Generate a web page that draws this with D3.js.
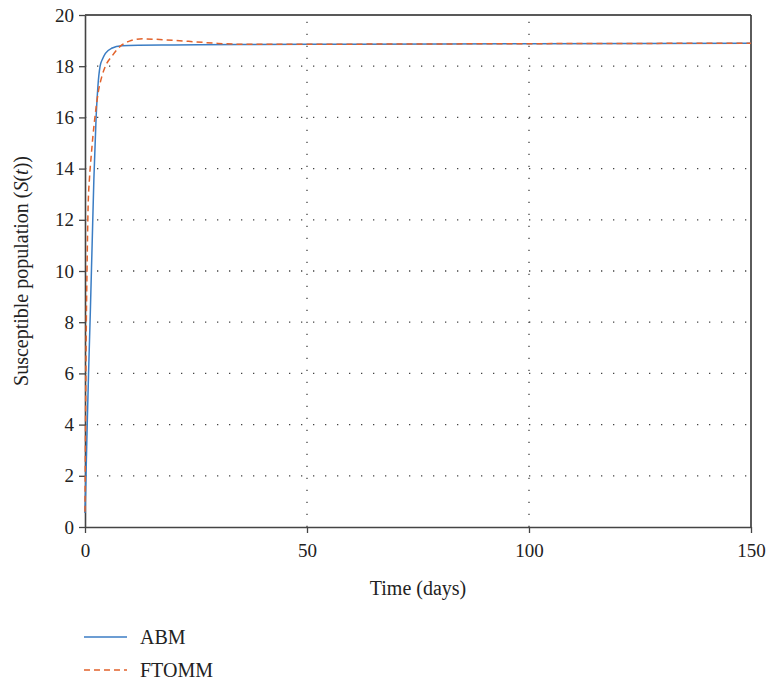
<!DOCTYPE html>
<html>
<head>
<meta charset="utf-8">
<script src="https://cdn.jsdelivr.net/npm/d3@7"></script>
<style>
  body { margin: 0; background: #fff; }
  svg { display: block; }
  text { font-family: "Liberation Serif", "DejaVu Serif", serif; fill: #222; }
</style>
</head>
<body>
<svg id="chart" width="768" height="684"></svg>
<script>
const xTicks = [0, 50, 100, 150];
const yTicks = [0, 2, 4, 6, 8, 10, 12, 14, 16, 18, 20];
const seriesNames = ["ABM", "FTOMM"];

const abmTime  = [0, 0.25, 0.5, 0.8, 1.2, 1.6, 2.0, 2.5, 2.9, 3.4, 4.0, 4.6, 6.0, 8.3, 12, 20, 35, 60, 100, 150];
const abmValue = [0.55, 2.2, 4.0, 6.0, 8.4, 11.0, 13.6, 16.0, 17.2, 18.0, 18.3, 18.5, 18.7, 18.8, 18.82, 18.83, 18.85, 18.86, 18.88, 18.9];

const ftommTime  = [0, 0.05, 0.12, 0.2, 0.3, 0.45, 0.7, 1.0, 1.4, 1.8, 2.3, 3.0, 3.8, 4.6, 6.1, 8.3, 10, 13, 16, 20, 25, 30, 35, 50, 100, 150];
const ftommValue = [0.6, 2.0, 4.0, 6.0, 8.0, 10.0, 12.5, 13.6, 14.5, 15.3, 16.1, 17.0, 17.6, 18.0, 18.4, 18.83, 18.98, 19.07, 19.05, 19.01, 18.95, 18.89, 18.86, 18.86, 18.88, 18.9];

const svg = d3.select("#chart");
const m = { left: 85, right: 751, top: 15, bottom: 527 };
const x = d3.scaleLinear().domain([0, 150]).range([m.left, m.right]);
const y = d3.scaleLinear().domain([0, 20]).range([m.bottom, m.top]);

// grid
const grid = svg.append("g");
grid.selectAll("line.h").data(yTicks.filter(v => v > 0 && v < 20)).join("line")
  .attr("x1", m.left).attr("x2", m.right)
  .attr("y1", d => y(d)).attr("y2", d => y(d))
  .attr("stroke", "#444").attr("stroke-width", 1.3)
  .attr("stroke-dasharray", "1.3,10.7");
grid.selectAll("line.v").data(xTicks.filter(v => v > 0 && v < 150)).join("line")
  .attr("x1", d => x(d)).attr("x2", d => x(d))
  .attr("y1", m.bottom).attr("y2", m.top)
  .attr("stroke", "#444").attr("stroke-width", 1.3)
  .attr("stroke-dasharray", "1.3,10.7");

// frame top & right
svg.append("line").attr("x1", m.left).attr("x2", m.right).attr("y1", m.top).attr("y2", m.top)
  .attr("stroke", "#222").attr("stroke-width", 1.3);
svg.append("line").attr("x1", m.right).attr("x2", m.right).attr("y1", m.top).attr("y2", m.bottom)
  .attr("stroke", "#333").attr("stroke-width", 1.6);

// axes
const xAxis = svg.append("g").attr("transform", `translate(0,${m.bottom})`)
  .call(d3.axisBottom(x).tickValues(xTicks).tickSize(6).tickPadding(11).tickSizeOuter(0));
const yAxis = svg.append("g").attr("transform", `translate(${m.left},0)`)
  .call(d3.axisLeft(y).tickValues(yTicks).tickSize(6).tickPadding(5).tickSizeOuter(0));
[xAxis, yAxis].forEach(a => {
  a.attr("font-family", null).attr("font-size", null);
  a.select(".domain").attr("stroke", "#444").attr("stroke-width", 1.6);
  a.selectAll(".tick line").attr("stroke", "#444").attr("stroke-width", 1.3);
  a.selectAll(".tick text").attr("font-size", 19).attr("fill", "#222");
});

// lines
const line = d3.line().x(d => x(d[0])).y(d => y(d[1])).curve(d3.curveMonotoneX);
const abm = abmTime.map((t, i) => [t, abmValue[i]]);
const ftomm = ftommTime.map((t, i) => [t, ftommValue[i]]);
svg.append("path").datum(abm).attr("d", line)
  .attr("fill", "none").attr("stroke", "#3b7dc4").attr("stroke-width", 1.5);
svg.append("path").datum(ftomm).attr("d", line)
  .attr("fill", "none").attr("stroke", "#e2622b").attr("stroke-width", 1.5)
  .attr("stroke-dasharray", "6,4");

// labels
svg.append("text").attr("x", (m.left + m.right) / 2).attr("y", 595)
  .attr("text-anchor", "middle").attr("font-size", 20).text("Time (days)");
const yl = svg.append("text").attr("transform", `translate(28,${(m.top + m.bottom) / 2}) rotate(-90)`)
  .attr("text-anchor", "middle").attr("font-size", 20);
yl.append("tspan").text("Susceptible population (");
yl.append("tspan").attr("font-style", "italic").text("S");
yl.append("tspan").text("(");
yl.append("tspan").attr("font-style", "italic").text("t");
yl.append("tspan").text("))");

// legend
const leg = svg.append("g");
const legStyles = [
  { color: "#3b7dc4", dash: null },
  { color: "#e2622b", dash: "6,4" }
];
seriesNames.forEach((name, i) => {
  const yy = 637 + i * 33;
  leg.append("line").attr("x1", 84).attr("x2", 127).attr("y1", yy).attr("y2", yy)
    .attr("stroke", legStyles[i].color).attr("stroke-width", 1.5)
    .attr("stroke-dasharray", legStyles[i].dash);
  leg.append("text").attr("x", 140).attr("y", yy).attr("dy", "0.35em")
    .attr("font-size", 20).text(name);
});
</script>
</body>
</html>
